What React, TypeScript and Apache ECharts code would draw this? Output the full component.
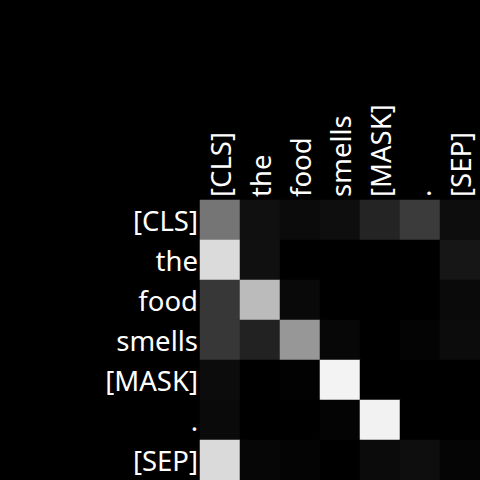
import React, { useEffect, useRef } from "react";
import * as echarts from "echarts";

const tokens = ["[CLS]", "the", "food", "smells", "[MASK]", ".", "[SEP]"];

// attention weights (rows = query token, columns = key token)
const rowCLS = [0.46, 0.063, 0.043, 0.055, 0.141, 0.231, 0.051];
const rowThe = [0.859, 0.063, 0.0, 0.0, 0.0, 0.0, 0.086];
const rowFood = [0.216, 0.733, 0.035, 0.0, 0.0, 0.0, 0.039];
const rowSmells = [0.216, 0.133, 0.592, 0.027, 0.0, 0.016, 0.047];
const rowMask = [0.047, 0.0, 0.008, 0.953, 0.0, 0.0, 0.0];
const rowDot = [0.039, 0.0, 0.0, 0.016, 0.949, 0.0, 0.0];
const rowSEP = [0.855, 0.024, 0.016, 0.0, 0.043, 0.055, 0.02];

const rows = [rowCLS, rowThe, rowFood, rowSmells, rowMask, rowDot, rowSEP];

export default function App() {
  const ref = useRef<HTMLDivElement>(null);
  useEffect(() => {
    if (!ref.current) return;
    const chart = echarts.init(ref.current, null, { renderer: "svg" });
    const data: [number, number, number][] = [];
    rows.forEach((r, yi) => r.forEach((v, xi) => data.push([xi, yi, v])));
    chart.setOption({
      animation: false,
      backgroundColor: "#000000",
      grid: { left: 200, top: 200, width: 280, height: 280 },
      xAxis: {
        type: "category",
        data: tokens,
        position: "top",
        axisLine: { show: false },
        axisTick: { show: false },
        splitLine: { show: false },
        axisLabel: {
          rotate: -90,
          color: "#ffffff",
          fontFamily: "Noto Sans",
          fontSize: 27.5,
          margin: 3,
          interval: 0,
        },
      },
      yAxis: {
        type: "category",
        data: tokens,
        inverse: true,
        axisLine: { show: false },
        axisTick: { show: false },
        splitLine: { show: false },
        axisLabel: {
          color: "#ffffff",
          fontFamily: "Noto Sans",
          fontSize: 27.5,
          margin: 2,
          interval: 0,
        },
      },
      visualMap: {
        show: false,
        min: 0,
        max: 1,
        inRange: { color: ["#000000", "#ffffff"] },
      },
      series: [
        {
          type: "heatmap",
          data,
          itemStyle: { borderWidth: 0 },
        },
      ],
    });
    return () => chart.dispose();
  }, []);
  return (
    <div
      ref={ref}
      style={{ width: 480, height: 480, position: "fixed", left: 0, top: 0 }}
    />
  );
}
